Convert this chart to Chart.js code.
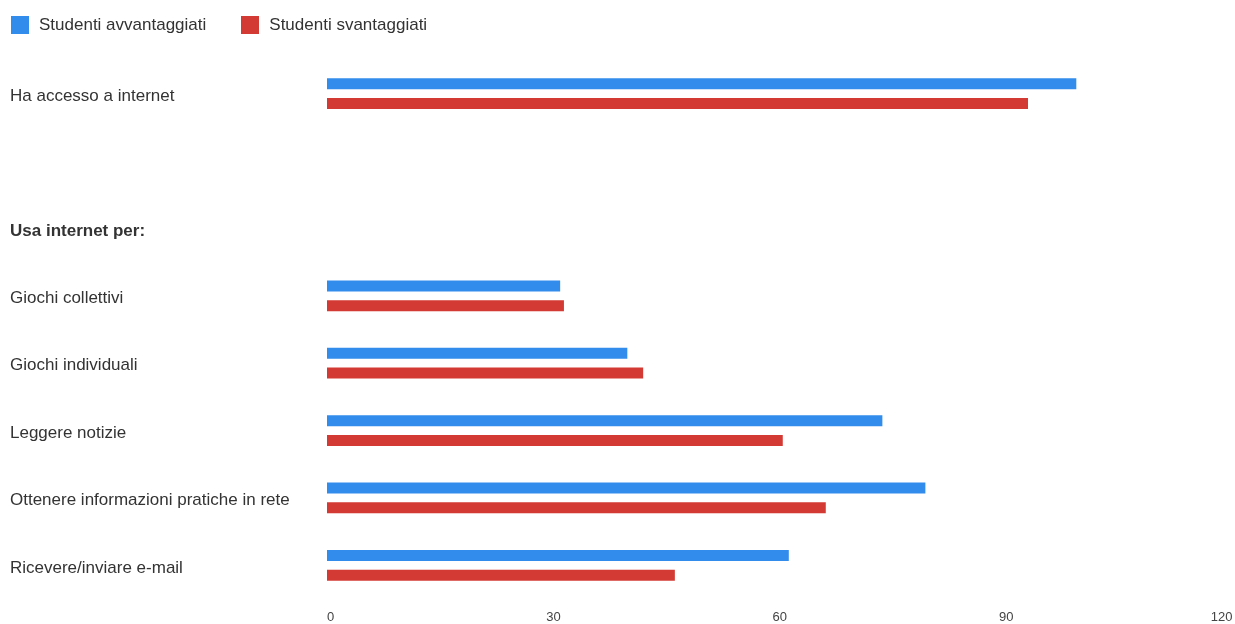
<!DOCTYPE html>
<html>
<head>
<meta charset="utf-8">
<script src="https://cdn.jsdelivr.net/npm/chart.js@4/dist/chart.umd.min.js"></script>
<style>
  html, body { margin: 0; padding: 0; background: #fff; }
  #wrap { position: relative; width: 1235px; height: 624px; }
  #wrap canvas { display: block; }
  #legend { position: absolute; left: 11px; top: 16px; display: flex; font: 17px Arial, "Liberation Sans", sans-serif; color: #333; }
  #legend .item { display: flex; align-items: center; margin-right: 35px; height: 18px; }
  #legend .box { width: 18px; height: 18px; margin-right: 10px; }
</style>
</head>
<body>
<div id="wrap">
  <div id="legend"></div>
  <canvas id="studentChart" width="1235" height="624"></canvas>
</div>
<script>
// ================================
// DATA
// ================================
const categories = [
  "Ha accesso a internet",
  "",
  "Usa internet per:",
  "Giochi collettivi",
  "Giochi individuali",
  "Leggere notizie",
  "Ottenere informazioni pratiche in rete",
  "Ricevere/inviare e-mail"
];
const seriesNames = ["Studenti avvantaggiati", "Studenti svantaggiati"];
const advantaged = [99.3, null, null, 30.9, 39.8, 73.6, 79.3, 61.2];
const disadvantaged = [92.9, null, null, 31.4, 41.9, 60.4, 66.1, 46.1];
const xTicks = [0, 30, 60, 90, 120];
const colors = ["#328CEC", "#D33A33"];

const font = "Arial, 'Liberation Sans', sans-serif";

// ================================
// LEGEND (html)
// ================================
const legendEl = document.getElementById("legend");
seriesNames.forEach((name, i) => {
  const item = document.createElement("div");
  item.className = "item";
  const box = document.createElement("span");
  box.className = "box";
  box.style.background = colors[i];
  const txt = document.createElement("span");
  txt.textContent = name;
  item.appendChild(box);
  item.appendChild(txt);
  legendEl.appendChild(item);
});

// ================================
// HORIZONTAL BARS
// ================================
const ctx = document.getElementById("studentChart").getContext("2d");

new Chart(ctx, {
  type: "bar",
  data: {
    labels: categories,
    datasets: [
      {
        label: seriesNames[0],
        data: advantaged,
        backgroundColor: colors[0],
        borderWidth: 0,
        categoryPercentage: 0.585,
        barPercentage: 0.56
      },
      {
        label: seriesNames[1],
        data: disadvantaged,
        backgroundColor: colors[1],
        borderWidth: 0,
        categoryPercentage: 0.585,
        barPercentage: 0.56
      }
    ]
  },
  options: {
    indexAxis: "y",
    responsive: false,
    animation: false,
    layout: { padding: { left: 10, top: 60, right: 2.5, bottom: 0 } },
    plugins: {
      legend: { display: false },
      tooltip: { enabled: false }
    },
    scales: {
      x: {
        min: xTicks[0],
        max: xTicks[xTicks.length - 1],
        grid: { display: false, drawTicks: false },
        border: { display: false },
        afterBuildTicks: (scale) => {
          scale.ticks = xTicks.map(v => ({ value: v }));
        },
        afterFit: (scale) => {
          scale.height = 25;
          scale.paddingLeft = 0;
          scale.paddingRight = 0;
        },
        ticks: {
          align: "inner",
          padding: 11,
          color: "#444",
          font: { family: font, size: 13 }
        }
      },
      y: {
        grid: { display: false, drawTicks: false },
        border: { display: false },
        afterFit: (scale) => { scale.width = 317; },
        ticks: {
          crossAlign: "far",
          autoSkip: false,
          padding: 0,
          labelOffset: 2.5,
          color: "#333",
          font: (c) => ({
            family: font,
            size: 17,
            weight: c.index === 2 ? "bold" : "normal"
          })
        }
      }
    }
  }
});
</script>
</body>
</html>
